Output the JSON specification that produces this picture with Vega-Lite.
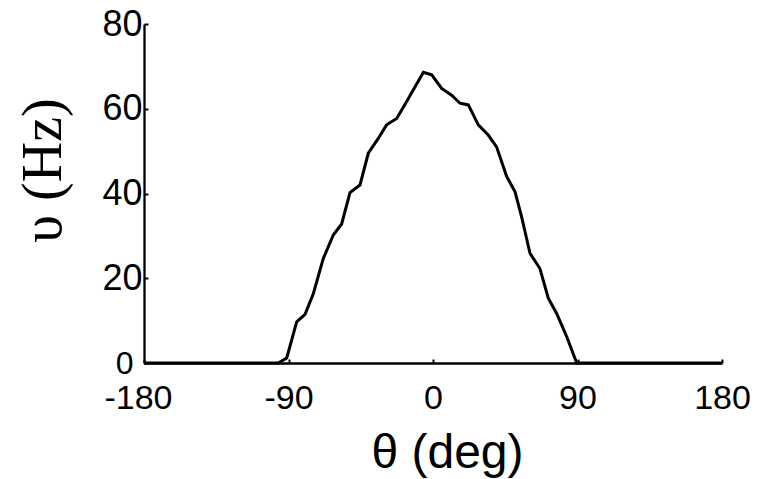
{
  "$schema": "https://vega.github.io/schema/vega-lite/v6.json",
  "width": 578,
  "height": 339,
  "autosize": {"type": "none"},
  "padding": {"left": 144, "top": 24, "right": 45, "bottom": 116},
  "background": "white",
  "config": {
    "view": {"stroke": null},
    "axis": {
      "grid": false,
      "domainColor": "black",
      "domainWidth": 2.3,
      "tickColor": "black",
      "tickWidth": 2,
      "tickSize": -4,
      "labelColor": "black",
      "labelFont": "Liberation Sans",
      "labelFontWeight": "normal",
      "titleColor": "black",
      "titleFontWeight": "normal"
    }
  },
  "data": {
    "values": [
      {"theta": -180, "v": 0},
      {"theta": -96.4, "v": 0},
      {"theta": -91.1, "v": 1.2},
      {"theta": -84.9, "v": 9.7},
      {"theta": -79.7, "v": 11.5},
      {"theta": -74.5, "v": 16.4},
      {"theta": -68.3, "v": 24.7},
      {"theta": -62.1, "v": 30.2},
      {"theta": -56.9, "v": 32.8},
      {"theta": -51.7, "v": 40.2},
      {"theta": -45.5, "v": 42.0},
      {"theta": -40.3, "v": 49.5},
      {"theta": -34.1, "v": 53.0},
      {"theta": -28.9, "v": 56.2},
      {"theta": -22.6, "v": 57.7},
      {"theta": -16.4, "v": 61.7},
      {"theta": -6.0, "v": 68.6},
      {"theta": -0.8, "v": 68.0},
      {"theta": 5.4, "v": 64.8},
      {"theta": 11.6, "v": 63.2},
      {"theta": 16.8, "v": 61.3},
      {"theta": 22.0, "v": 60.9},
      {"theta": 28.2, "v": 56.2},
      {"theta": 34.4, "v": 53.8},
      {"theta": 39.6, "v": 51.0},
      {"theta": 45.9, "v": 44.0},
      {"theta": 51.1, "v": 40.4},
      {"theta": 55.2, "v": 34.5},
      {"theta": 60.4, "v": 25.9},
      {"theta": 66.6, "v": 22.3},
      {"theta": 71.8, "v": 15.3},
      {"theta": 77.0, "v": 11.7},
      {"theta": 83.3, "v": 6.2},
      {"theta": 89.5, "v": 0},
      {"theta": 180, "v": 0}
    ]
  },
  "mark": {"type": "line", "color": "black", "strokeWidth": 3, "clip": false},
  "encoding": {
    "x": {
      "field": "theta",
      "type": "quantitative",
      "scale": {"domain": [-180, 180], "nice": false, "zero": false},
      "axis": {
        "values": [-180, -90, 0, 90, 180],
        "labelExpr": "datum.value < 0 ? '-' + abs(datum.value) : '' + datum.value",
        "labelFontSize": 34,
        "labelOffset": {"condition": {"test": "datum.value === -180", "value": -6}, "value": 0},
        "title": "θ (deg)",
        "titleFont": "Liberation Sans",
        "titleFontSize": 48,
        "titleBaseline": "alphabetic",
        "titleAlign": "center",
        "titleX": 303,
        "titleY": 104,
        "labelPadding": 22,
        "labelFlush": false
      }
    },
    "y": {
      "field": "v",
      "type": "quantitative",
      "scale": {"domain": [0, 80], "nice": false},
      "axis": {
        "values": [0, 20, 40, 60, 80],
        "labelFontSize": {"condition": {"test": "datum.value === 0", "value": 32}, "value": 36},
        "labelPadding": {"condition": {"test": "datum.value === 0", "value": 15}, "value": 6},
        "title": "υ (Hz)",
        "titleFont": "Liberation Serif",
        "titleFontSize": 56,
        "titleAngle": -90,
        "titleBaseline": "alphabetic",
        "titleAlign": "center",
        "titleX": -84,
        "titleY": 146,
        "labelFlush": false
      }
    }
  }
}
